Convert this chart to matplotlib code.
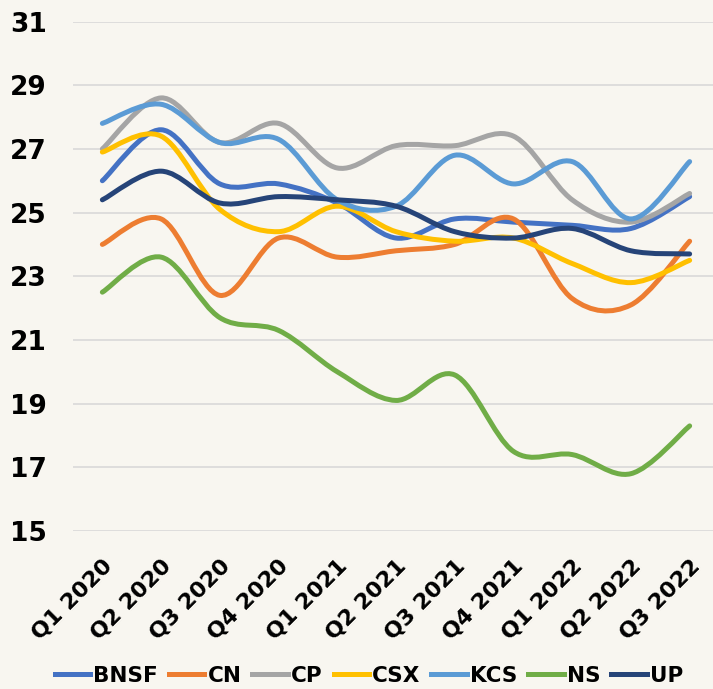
import matplotlib
matplotlib.use("Agg")
import matplotlib.pyplot as plt
from matplotlib.path import Path
from matplotlib.patches import PathPatch
from matplotlib.lines import Line2D
import numpy as np

quarters = ["Q1 2020", "Q2 2020", "Q3 2020", "Q4 2020", "Q1 2021", "Q2 2021",
            "Q3 2021", "Q4 2021", "Q1 2022", "Q2 2022", "Q3 2022"]

bnsf = [26.0, 27.6, 25.9, 25.9, 25.3, 24.2, 24.8, 24.7, 24.6, 24.5, 25.5]
cn   = [24.0, 24.8, 22.4, 24.2, 23.6, 23.8, 24.0, 24.8, 22.3, 22.1, 24.1]
cp   = [27.0, 28.6, 27.2, 27.8, 26.4, 27.1, 27.1, 27.4, 25.4, 24.7, 25.6]
csx  = [26.9, 27.4, 25.1, 24.4, 25.2, 24.4, 24.1, 24.2, 23.4, 22.8, 23.5]
kcs  = [27.8, 28.4, 27.2, 27.3, 25.4, 25.2, 26.8, 25.9, 26.6, 24.8, 26.6]
ns   = [22.5, 23.6, 21.7, 21.3, 20.0, 19.1, 19.9, 17.5, 17.4, 16.8, 18.3]
up   = [25.4, 26.3, 25.3, 25.5, 25.4, 25.2, 24.4, 24.2, 24.5, 23.8, 23.7]

series_names = ["BNSF", "CN", "CP", "CSX", "KCS", "NS", "UP"]
series_values = [bnsf, cn, cp, csx, kcs, ns, up]
colors = ["#4472C4", "#ED7D31", "#A5A5A5", "#FFC000", "#5B9BD5", "#70AD47", "#264478"]
yticks = [15, 17, 19, 21, 23, 25, 27, 29, 31]

bg = "#f8f6f0"
font = "DejaVu Sans"
fig = plt.figure(figsize=(7.13, 6.89), dpi=100, facecolor=bg)
ax = fig.add_axes([73/713, 1-531/689, 646/713, (531-21.5)/689])
ax.set_facecolor(bg)

def smooth_path(x, y):
    # Excel-style smoothed line: cubic Bezier segments through the data points
    pts = np.column_stack([x, y]).astype(float)
    n = len(pts)
    verts = [pts[0]]
    codes = [Path.MOVETO]
    for i in range(n - 1):
        p0 = pts[i - 1] if i > 0 else pts[i]
        p1 = pts[i]
        p2 = pts[i + 1]
        p3 = pts[i + 2] if i + 2 < n else pts[i + 1]
        c1 = p1 + (p2 - p0) / 6.0
        c2 = p2 - (p3 - p1) / 6.0
        verts += [c1, c2, p2]
        codes += [Path.CURVE4] * 3
    return Path(verts, codes)

xs = np.arange(len(quarters))
for name, vals, c in zip(series_names, series_values, colors):
    patch = PathPatch(smooth_path(xs, vals), facecolor="none", edgecolor=c,
                      lw=3.6, capstyle="round", joinstyle="round", zorder=3)
    ax.add_patch(patch)

ax.set_xlim(-0.5, len(quarters) - 0.5)
ax.set_ylim(15, 31)
ax.set_yticks(yticks)
ax.set_yticklabels([str(t) for t in yticks], fontsize=19, fontweight="bold", family=font)
ax.set_xticks(xs)
ax.set_xticklabels(quarters, rotation=45, ha="right", va="top", rotation_mode="anchor",
                   fontsize=16, fontweight="bold", family=font)
ax.tick_params(axis="y", length=0, pad=19)
ax.tick_params(axis="x", length=0, pad=18)
ax.grid(axis="y", color="#d9d9d9", lw=1.2, zorder=0)
for s in ax.spines.values():
    s.set_visible(False)

handles = [Line2D([0], [0], color=c, lw=3.6) for c in colors]
leg = fig.legend(handles, series_names, loc="center", bbox_to_anchor=(369/713, 1-676/689),
                 ncol=7, frameon=False, handlelength=1.65, handletextpad=0.15,
                 columnspacing=0.5, prop={"family": font, "weight": "bold", "size": 15.5})

fig.savefig("out.png", dpi=100, facecolor=bg)
